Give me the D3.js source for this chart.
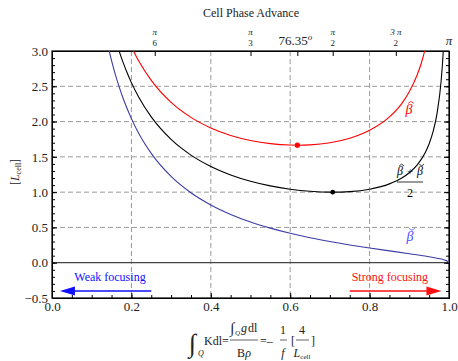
<!DOCTYPE html>
<html>
<head>
<meta charset="utf-8">
<script src="https://cdn.jsdelivr.net/npm/d3@7"></script>
<style>
  body { margin: 0; background: #fff; }
  svg { display: block; }
</style>
</head>
<body>
<div id="chart"></div>
<script>
// focusing strength  x = (1/f)/(4/L_cell)
const xHat = [0.19, 0.20, 0.21, 0.22, 0.25, 0.30, 0.35, 0.40, 0.45, 0.50, 0.55, 0.60, 0.618, 0.65, 0.70, 0.75, 0.80, 0.85, 0.88, 0.90, 0.92, 0.93, 0.94, 0.95];
const betaHat = [3.189, 3.062, 2.947, 2.843, 2.583, 2.271, 2.059, 1.910, 1.804, 1.733, 1.688, 1.667, 1.665, 1.670, 1.700, 1.764, 1.876, 2.066, 2.248, 2.423, 2.663, 2.823, 3.031, 3.288];

const xAvg = [0.15, 0.16, 0.17, 0.18, 0.19, 0.20, 0.22, 0.25, 0.30, 0.35, 0.40, 0.45, 0.50, 0.55, 0.60, 0.65, 0.70, 0.7071, 0.75, 0.80, 0.85, 0.88, 0.90, 0.92, 0.94, 0.95, 0.96, 0.97, 0.98, 0.985, 0.99];
const betaAvg = [3.371, 3.166, 2.985, 2.824, 2.680, 2.552, 2.330, 2.066, 1.747, 1.525, 1.364, 1.244, 1.155, 1.089, 1.042, 1.012, 1.000, 1.000, 1.008, 1.042, 1.117, 1.196, 1.275, 1.387, 1.559, 1.686, 1.860, 2.120, 2.564, 2.942, 3.580];

const xCheck = [0.13, 0.14, 0.15, 0.16, 0.17, 0.18, 0.20, 0.22, 0.25, 0.30, 0.35, 0.40, 0.45, 0.50, 0.55, 0.60, 0.65, 0.70, 0.75, 0.80, 0.85, 0.90, 0.94, 0.97, 0.99, 0.995, 1.0];
const betaCheck = [3.375, 3.102, 2.865, 2.659, 2.478, 2.316, 2.042, 1.817, 1.550, 1.223, 0.991, 0.818, 0.684, 0.577, 0.490, 0.417, 0.354, 0.300, 0.252, 0.208, 0.168, 0.128, 0.094, 0.064, 0.036, 0.025, 0.0];

// minima
const dotHat = [0.618, 1.665];
const dotAvg = [0.7071, 1.0];

// axes
const xTicks = [0, 0.2, 0.4, 0.6, 0.8, 1.0];
const yTicks = [-0.5, 0, 0.5, 1.0, 1.5, 2.0, 2.5, 3.0];
const xGrid = [0.2, 0.4, 0.6, 0.8];
const yGrid = [0.5, 1.0, 1.5, 2.0, 2.5];
const phaseX = [0.2588, 0.5, 0.618, 0.7071, 0.866, 1.0];
const phaseTop = ['π', 'π', '', 'π', '3 π', ''];
const phaseBottom = ['6', '3', '', '2', '2', ''];

const SERIF = '"Liberation Serif", "Times New Roman", "DejaVu Serif", serif';
const margin = {top: 51, right: 9, bottom: 63, left: 52};
const W = 458, H = 361;
const width = W - margin.left - margin.right;
const height = H - margin.top - margin.bottom;

const svg = d3.select('#chart').append('svg')
  .attr('width', W)
  .attr('height', H)
  .style('font-family', SERIF);

svg.append('defs').append('clipPath')
  .attr('id', 'plotclip')
  .append('rect')
  .attr('width', width)
  .attr('height', height);

const g = svg.append('g')
  .attr('transform', 'translate(' + margin.left + ',' + margin.top + ')');

const x = d3.scaleLinear().domain([0, 1]).range([0, width]);
const y = d3.scaleLinear().domain([-0.5, 3]).range([height, 0]);

// grid
g.append('g').selectAll('line')
  .data(xGrid)
  .enter().append('line')
    .attr('x1', d => x(d)).attr('x2', d => x(d))
    .attr('y1', 0).attr('y2', height)
    .attr('stroke', '#9a9a9a').attr('stroke-dasharray', '5,3');

g.append('g').selectAll('line')
  .data(yGrid)
  .enter().append('line')
    .attr('x1', 0).attr('x2', width)
    .attr('y1', d => y(d)).attr('y2', d => y(d))
    .attr('stroke', '#9a9a9a').attr('stroke-dasharray', '5,3');

// zero line
g.append('line')
  .attr('x1', 0).attr('x2', width)
  .attr('y1', y(0)).attr('y2', y(0))
  .attr('stroke', '#444').attr('stroke-width', 1.2);

// axes (ticks inward)
const minorX = d3.range(0, 1.0001, 0.05);
const minorY = d3.range(-0.5, 3.0001, 0.1);

g.append('g').attr('transform', 'translate(0,' + height + ')')
  .call(d3.axisBottom(x).tickValues(minorX).tickSize(-3).tickFormat(''));
g.append('g').attr('transform', 'translate(0,' + height + ')')
  .call(d3.axisBottom(x).tickValues(xTicks).tickSize(-5).tickPadding(4).tickFormat(d3.format('.1f')));
g.append('g')
  .call(d3.axisLeft(y).tickValues(minorY).tickSize(-3).tickFormat(''));
g.append('g')
  .call(d3.axisLeft(y).tickValues(yTicks).tickSize(-5).tickPadding(4).tickFormat(d3.format('.1f')));
g.append('g').attr('transform', 'translate(' + width + ',0)')
  .call(d3.axisRight(y).tickValues(minorY).tickSize(-3).tickFormat(''));
g.append('g').attr('transform', 'translate(' + width + ',0)')
  .call(d3.axisRight(y).tickValues(yTicks).tickSize(-5).tickFormat(''));
g.append('g')
  .call(d3.axisTop(x).tickValues(phaseX).tickSize(-5).tickFormat(''));

g.selectAll('.domain').attr('stroke', '#000');
g.selectAll('.tick line').attr('stroke', '#000');
g.selectAll('.tick text').attr('font-size', '13px').attr('fill', '#222');

// frame
g.append('rect')
  .attr('width', width).attr('height', height)
  .attr('fill', 'none').attr('stroke', '#000').attr('stroke-width', 1.2);

// top phase labels
const phaseLabels = g.append('g').attr('font-size', '9px').attr('fill', '#222').attr('text-anchor', 'middle');
phaseX.forEach((p, i) => {
  phaseLabels.append('text').attr('x', x(p)).attr('y', -16).attr('font-style', 'italic').text(phaseTop[i]);
  phaseLabels.append('text').attr('x', x(p)).attr('y', -5).text(phaseBottom[i]);
});
phaseLabels.append('text')
  .attr('x', x(0.618) - 2).attr('y', -6)
  .attr('font-size', '13px')
  .text('76.35')
  .append('tspan').attr('dy', -5).attr('font-size', '9px').attr('font-style', 'italic').text('o');
phaseLabels.append('text')
  .attr('x', x(1.0)).attr('y', -6)
  .attr('font-size', '13px').attr('font-style', 'italic')
  .text('π');

// curves
const line = d3.line().curve(d3.curveMonotoneX);
const curves = g.append('g').attr('clip-path', 'url(#plotclip)').attr('fill', 'none').attr('stroke-width', 1.1);

curves.append('path')
  .attr('d', line(xHat.map((v, i) => [x(v), y(betaHat[i])])))
  .attr('stroke', '#ff0000');
curves.append('path')
  .attr('d', line(xAvg.map((v, i) => [x(v), y(betaAvg[i])])))
  .attr('stroke', '#000');
curves.append('path')
  .attr('d', line(xCheck.map((v, i) => [x(v), y(betaCheck[i])])))
  .attr('stroke', '#3c3ca4');

g.append('circle').attr('cx', x(dotHat[0])).attr('cy', y(dotHat[1])).attr('r', 2.6).attr('fill', '#ff0000');
g.append('circle').attr('cx', x(dotAvg[0])).attr('cy', y(dotAvg[1])).attr('r', 2.4).attr('fill', '#000');

// beta with a hat (up) or check (down) accent drawn as a small path
function beta(parent, cx, by, size, up, color) {
  parent.append('text').attr('x', cx).attr('y', by).attr('text-anchor', 'middle')
    .attr('font-size', size + 'px').attr('font-style', 'italic').attr('fill', color).text('β');
  const ax = cx + size * 0.14, w = size * 0.2, ay = by - size * 0.9, h = size * 0.14;
  const d = up
    ? 'M' + (ax - w) + ',' + (ay + h) + 'L' + ax + ',' + ay + 'L' + (ax + w) + ',' + (ay + h)
    : 'M' + (ax - w) + ',' + ay + 'L' + ax + ',' + (ay + h) + 'L' + (ax + w) + ',' + ay;
  parent.append('path').attr('d', d).attr('fill', 'none').attr('stroke', color).attr('stroke-width', 0.8);
}

// curve labels
beta(g, 357, 63, 14, true, '#ff0000');
beta(g, 348, 124, 12, true, '#000');
g.append('text').attr('x', 358).attr('y', 124).attr('text-anchor', 'middle')
  .attr('font-size', '11px').attr('fill', '#000').text('+');
beta(g, 368, 124, 12, false, '#000');
g.append('line').attr('x1', 345).attr('x2', 371).attr('y1', 131).attr('y2', 131).attr('stroke', '#000').attr('stroke-width', 0.8);
g.append('text').attr('x', 358).attr('y', 146).attr('text-anchor', 'middle')
  .attr('font-size', '12px').attr('fill', '#000').text('2');
beta(g, 358, 190, 14, false, '#4b4bff');

// focusing arrows
const arrows = [
  {from: 0.25, to: 0.02, color: '#1010ff', label: 'Weak focusing', lx: 0.146},
  {from: 0.75, to: 0.981, color: '#ff1010', label: 'Strong focusing', lx: 0.851}
];
arrows.forEach(a => {
  const dir = a.to > a.from ? 1 : -1;
  const ay = y(-0.4);
  g.append('line')
    .attr('x1', x(a.from)).attr('x2', x(a.to) - dir * 12)
    .attr('y1', ay).attr('y2', ay)
    .attr('stroke', a.color).attr('stroke-width', 1.5);
  g.append('path')
    .attr('d', 'M' + x(a.to) + ',' + ay + 'L' + (x(a.to) - dir * 15) + ',' + (ay - 4.5) + 'L' + (x(a.to) - dir * 15) + ',' + (ay + 4.5) + 'Z')
    .attr('fill', a.color);
  g.append('text')
    .attr('x', x(a.lx)).attr('y', y(-0.26))
    .attr('text-anchor', 'middle').attr('font-size', '12px')
    .attr('fill', a.color).text(a.label);
});

// title
svg.append('text').attr('x', 251).attr('y', 17).attr('text-anchor', 'middle')
  .attr('font-size', '12px').attr('fill', '#222').text('Cell Phase Advance');

// y label
const yl = svg.append('text')
  .attr('transform', 'translate(19,172) rotate(-90)')
  .attr('text-anchor', 'middle').attr('font-size', '12px').attr('fill', '#222');
yl.append('tspan').text('[');
yl.append('tspan').attr('font-style', 'italic').text('L');
yl.append('tspan').attr('font-size', '8px').attr('dy', 2).text('cell');
yl.append('tspan').attr('dy', -2).text(']');

// x label formula
const f = svg.append('g').attr('fill', '#222').attr('font-size', '12px');
f.append('text').attr('x', 189).attr('y', 352).attr('font-size', '26px').text('∫');
f.append('text').attr('x', 198).attr('y', 356).attr('font-size', '8px').attr('font-style', 'italic').text('Q');
f.append('text').attr('x', 204).attr('y', 345).text('Kdl=');
f.append('text').attr('x', 230).attr('y', 333).attr('font-size', '15px').text('∫');
f.append('text').attr('x', 235).attr('y', 335).attr('font-size', '7px').attr('font-style', 'italic').text('Q');
f.append('text').attr('x', 241).attr('y', 332).attr('font-style', 'italic').text('g');
f.append('text').attr('x', 248).attr('y', 332).text('dl');
f.append('line').attr('x1', 230).attr('x2', 258).attr('y1', 340).attr('y2', 340).attr('stroke', '#222').attr('stroke-width', 0.7);
const den = f.append('text').attr('x', 244).attr('y', 357).attr('text-anchor', 'middle');
den.append('tspan').text('B');
den.append('tspan').attr('font-style', 'italic').text('ρ');
f.append('text').attr('x', 260).attr('y', 345).text('=–');
f.append('text').attr('x', 283).attr('y', 334).attr('text-anchor', 'middle').text('1');
f.append('line').attr('x1', 280).attr('x2', 287).attr('y1', 340).attr('y2', 340).attr('stroke', '#222').attr('stroke-width', 0.7);
f.append('text').attr('x', 283).attr('y', 357).attr('text-anchor', 'middle').attr('font-style', 'italic').text('f');
f.append('text').attr('x', 291).attr('y', 345).text('[');
f.append('text').attr('x', 302).attr('y', 334).attr('text-anchor', 'middle').text('4');
f.append('line').attr('x1', 296).attr('x2', 309).attr('y1', 340).attr('y2', 340).attr('stroke', '#222').attr('stroke-width', 0.7);
const lc = f.append('text').attr('x', 302).attr('y', 357).attr('text-anchor', 'middle');
lc.append('tspan').attr('font-style', 'italic').text('L');
lc.append('tspan').attr('font-size', '7px').attr('dy', 2).text('cell');
f.append('text').attr('x', 311).attr('y', 345).text(']');

// make sure every label uses the serif face (d3 axes set sans-serif on their groups)
svg.selectAll('g').attr('font-family', null);
svg.selectAll('text').style('font-family', SERIF);
</script>
</body>
</html>
